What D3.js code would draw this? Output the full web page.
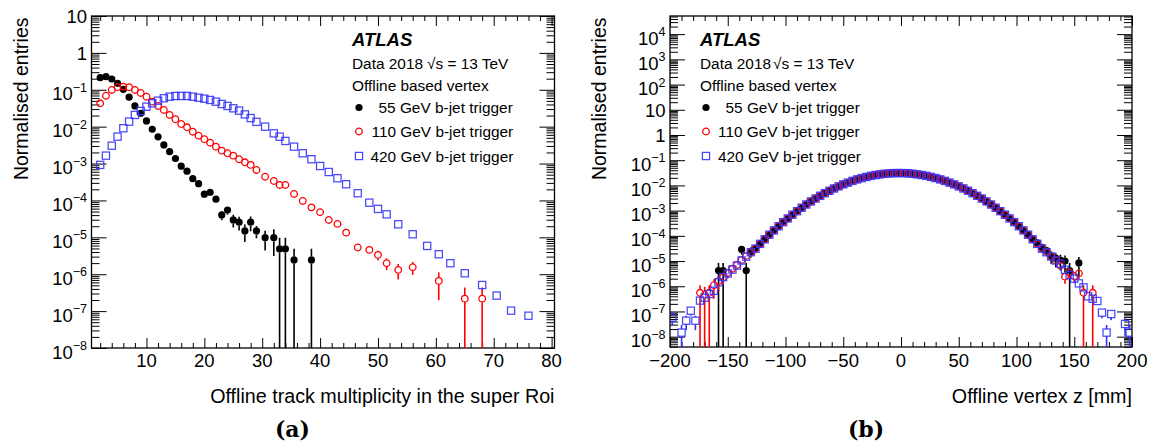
<!DOCTYPE html>
<html><head><meta charset="utf-8">
<script src="https://cdn.jsdelivr.net/npm/d3@7"></script>
<style>body{margin:0;background:#fff}svg{display:block}</style>
</head><body>
<script>
// ---------- Panel (a): track multiplicity ----------
const trkBins = [2,3,4,5,6,7,8,9,10,11,12,13,14,15,16,17,18,19,20,21,22,23,24,25,26,27,28,29,
  30.5,32,33,34,35.5,37,38.5,40,41.5,43,44.5,46.5,48.5,50,51.5,53.5,56,58.5,60.5,62.5,65,68,70.5,73,76];
const trk55 = [0.213,0.226,0.196,0.150,0.103,0.063,0.0364,0.0231,0.0143,0.0085,0.0053,0.0032,0.0021,0.00137,8.5e-4,6.2e-4,3.9e-4,2.85e-4,1.48e-4,1.67e-4,1.08e-4,4.05e-5,5.5e-5,2.96e-5,2.57e-5,1.49e-5,2.57e-5,1.49e-5,
  9.8e-6,9.8e-6,4.85e-6,4.85e-6,2.44e-6,null,2.44e-6,null,null,null,null,null,null,null,null,null,null,null,null,null,null,null,null,null,null];
const trk55Err = [0,0,0,0,0,0,0,0,0,0,0,0,0,0,0,0.05,0.06,0.08,0.1,0.1,0.13,0.28,0.25,0.38,0.4,0.5,0.43,0.37,
  0.55,0.68,1,1,1,0,1,0,0,0,0,0,0,0,0,0,0,0,0,0,0,0,0,0,0];
const trk110 = [0.043,0.069,0.099,0.117,0.122,0.117,0.099,0.082,0.065,0.0476,0.0364,0.0284,0.0208,0.0159,0.0118,0.0096,0.0073,0.0057,0.00456,0.00368,0.00287,0.00224,0.0019,0.00164,0.00131,0.00108,9.2e-4,6.7e-4,
  4.4e-4,3.37e-4,2.63e-4,2.63e-4,1.5e-4,9.7e-5,6.5e-5,4.8e-5,2.96e-5,2.31e-5,1.34e-5,5.3e-6,4.56e-6,3.34e-6,1.99e-6,1.31e-6,1.55e-6,null,6.6e-7,null,2.18e-7,2.18e-7,null,null,null];
const trk110Err = [0,0,0,0,0,0,0,0,0,0,0,0,0,0,0,0,0,0,0,0,0,0,0,0,0,0,0,0.02,
  0.03,0.03,0.04,0.04,0.05,0.06,0.07,0.08,0.1,0.11,0.12,0.17,0.2,0.3,0.35,0.45,0.38,0,0.7,0,1,1,0,0,0];
const trk420 = [9.2e-4,1.64e-3,3.05e-3,5.36e-3,9.05e-3,0.0137,0.0208,0.0266,0.0348,0.043,0.0507,0.0589,0.065,0.068,0.068,0.068,0.065,0.061,0.0574,0.053,0.0476,0.0412,0.0364,0.0315,0.0272,0.0215,0.0171,0.0135,
  0.01,0.0066,0.00536,0.0041,0.00287,0.0019,0.00131,8.6e-4,5.9e-4,4.0e-4,2.75e-4,1.57e-4,8.7e-5,5.9e-5,4.2e-5,2.26e-5,1.21e-5,5.85e-6,3.48e-6,1.99e-6,1.06e-6,5.1e-7,2.63e-7,1.03e-7,7.5e-8];
const trk420Err = [0,0,0,0,0,0,0,0,0,0,0,0,0,0,0,0,0,0,0,0,0,0,0,0,0,0,0,0,
  0,0,0,0,0,0,0,0,0,0,0,0,0,0,0,0,0,0,0,0,0.04,0.06,0.08,0.12,0.2];
const trkTicks = [10,20,30,40,50,60,70,80];

// ---------- Panel (b): vertex z ----------
const zBins = [-198,-194,-190,-186,-182,-178,-174,-170,-166,-162,-158,-154,-150,-146,-142,-138,-134,-130,
  -126,-122,-118,-114,-110,-106,-102,-98,-94,-90,-86,-82,-78,-74,-70,-66,-62,-58,-54,-50,-46,-42,-38,-34,-30,-26,-22,-18,-14,-10,-6,-2,
  2,6,10,14,18,22,26,30,34,38,42,46,50,54,58,62,66,70,74,78,82,86,90,94,98,102,106,110,114,118,122,126,
  130,134,138,142,146,150,154,158,162,166,170,174,178,182,186,190,194,198];
const vtx55 = [null,null,null,null,null,null,null,null,null,null,4.2e-6,4.2e-6,null,null,null,2.9e-5,4.2e-6,2.4e-5,
  3.2e-5,4.7e-5,7.2e-5,1.10e-4,1.63e-4,2.4e-4,3.5e-4,4.9e-4,6.9e-4,9.5e-4,1.30e-3,1.75e-3,2.31e-3,3.01e-3,3.87e-3,4.91e-3,6.14e-3,7.59e-3,9.18e-3,1.10e-2,1.29e-2,1.51e-2,1.73e-2,1.95e-2,2.17e-2,2.39e-2,2.58e-2,2.75e-2,2.90e-2,3.01e-2,3.07e-2,3.09e-2,
  3.07e-2,3.01e-2,2.90e-2,2.75e-2,2.58e-2,2.39e-2,2.17e-2,1.95e-2,1.73e-2,1.51e-2,1.29e-2,1.10e-2,9.18e-3,7.59e-3,6.14e-3,4.91e-3,3.87e-3,3.01e-3,2.31e-3,1.75e-3,1.30e-3,9.5e-4,6.9e-4,4.9e-4,3.5e-4,2.4e-4,1.64e-4,1.12e-4,7.5e-5,5.3e-5,3.5e-5,2.6e-5,
  1.6e-5,1.3e-5,1.1e-5,1.0e-5,4.2e-6,null,8.4e-6,null,null,null,null,null,null,null,null,null,null,null];
const vtx110 = [null,null,null,null,null,null,5.5e-7,4.5e-7,5.5e-7,1.1e-6,1.6e-6,2.3e-6,3.4e-6,5.0e-6,7.0e-6,1.1e-5,1.6e-5,2.2e-5,
  3.1e-5,4.8e-5,7.3e-5,1.11e-4,1.64e-4,2.4e-4,3.5e-4,4.9e-4,6.9e-4,9.5e-4,1.30e-3,1.75e-3,2.31e-3,3.01e-3,3.87e-3,4.91e-3,6.14e-3,7.59e-3,9.18e-3,1.10e-2,1.29e-2,1.51e-2,1.73e-2,1.95e-2,2.17e-2,2.39e-2,2.58e-2,2.75e-2,2.90e-2,3.01e-2,3.07e-2,3.09e-2,
  3.07e-2,3.01e-2,2.90e-2,2.75e-2,2.58e-2,2.39e-2,2.17e-2,1.95e-2,1.73e-2,1.51e-2,1.29e-2,1.10e-2,9.18e-3,7.59e-3,6.14e-3,4.91e-3,3.87e-3,3.01e-3,2.31e-3,1.75e-3,1.30e-3,9.5e-4,6.9e-4,4.9e-4,3.5e-4,2.4e-4,1.64e-4,1.11e-4,7.3e-5,4.8e-5,3.1e-5,2.24e-5,
  1.5e-5,1.05e-5,6.5e-6,2.4e-6,3.5e-6,2.5e-6,3.2e-6,5.5e-7,null,5.5e-7,null,null,null,null,null,null,null,null];
const vtx420 = [5.7e-8,null,1.45e-8,4.3e-8,1.07e-7,4.3e-8,2.7e-7,3.5e-7,4.9e-7,6.6e-7,1.45e-6,2.3e-6,3.2e-6,4.6e-6,6.6e-6,1.05e-5,1.5e-5,2.24e-5,
  3.1e-5,4.8e-5,7.3e-5,1.11e-4,1.64e-4,2.4e-4,3.5e-4,4.9e-4,6.9e-4,9.5e-4,1.30e-3,1.75e-3,2.31e-3,3.01e-3,3.87e-3,4.91e-3,6.14e-3,7.59e-3,9.18e-3,1.10e-2,1.29e-2,1.51e-2,1.73e-2,1.95e-2,2.17e-2,2.39e-2,2.58e-2,2.75e-2,2.90e-2,3.01e-2,3.07e-2,3.09e-2,
  3.07e-2,3.01e-2,2.90e-2,2.75e-2,2.58e-2,2.39e-2,2.17e-2,1.95e-2,1.73e-2,1.51e-2,1.29e-2,1.10e-2,9.18e-3,7.59e-3,6.14e-3,4.91e-3,3.87e-3,3.01e-3,2.31e-3,1.75e-3,1.30e-3,9.5e-4,6.9e-4,4.9e-4,3.5e-4,2.4e-4,1.64e-4,1.11e-4,7.3e-5,4.8e-5,3.1e-5,2.24e-5,
  1.51e-5,1.05e-5,7.8e-6,4.5e-6,2.8e-6,2.0e-6,1.3e-6,9.0e-7,4.0e-7,3.2e-7,2.6e-7,9.0e-8,1.45e-8,7.9e-8,null,null,3.2e-8,1.45e-8];
// weight of a single entry in each histogram (smallest filled bin), used for Poisson error bars
const singleEntry55 = 4.2e-6, singleEntry110 = 5.5e-7, singleEntry420 = 1.45e-8;
const zTicks = [-200,-150,-100,-50,0,50,100,150,200];

const legendLabels = ["55 GeV b-jet trigger","110 GeV b-jet trigger","420 GeV b-jet trigger"];

// ---------- drawing ----------
const SANS = "'Liberation Sans', Arial, Helvetica, sans-serif";
const BLUE = "#3434f8", RED = "#ff0000";
const TXT = 15.4;
const svg = d3.select("body").append("svg").attr("width",1151).attr("height",446)
  .attr("font-family",SANS);
const defs = svg.append("defs");
const minus = s => String(s).replace("-","\u2212");

function makePanel(o){
  const x = d3.scaleLinear().domain(o.xDom).range([o.x0,o.x1]);
  const y = d3.scaleLog().domain(o.yDom).range([o.y1,o.y0]);
  const g = svg.append("g");
  defs.append("clipPath").attr("id","clip"+o.id).append("rect")
    .attr("x",o.x0).attr("y",o.y0).attr("width",o.x1-o.x0).attr("height",o.y1-o.y0);
  const [d0,d1] = o.yDom, maj=[], mnr=[];
  for(let k=Math.floor(Math.log10(d0)); k<=Math.ceil(Math.log10(d1)); k++){
    const b = Math.pow(10,k);
    if(b>=d0*0.999 && b<=d1*1.001) maj.push(b);
    for(let m=2;m<=9;m++){ const v=m*b; if(v>d0 && v<d1) mnr.push(v); }
  }
  const ax = (gen, tr) => g.append("g").attr("transform",tr).call(gen)
    .call(s=>s.select(".domain").remove());
  ax(d3.axisLeft(y).tickValues(maj).tickSize(-15).tickFormat(""), `translate(${o.x0},0)`);
  ax(d3.axisLeft(y).tickValues(mnr).tickSize(-8).tickFormat(""), `translate(${o.x0},0)`);
  ax(d3.axisRight(y).tickValues(maj).tickSize(-15).tickFormat(""), `translate(${o.x1},0)`);
  ax(d3.axisRight(y).tickValues(mnr).tickSize(-8).tickFormat(""), `translate(${o.x1},0)`);
  ax(d3.axisBottom(x).tickValues(o.xMaj).tickSize(-10).tickFormat(""), `translate(0,${o.y1})`);
  ax(d3.axisBottom(x).tickValues(o.xMin).tickSize(-5).tickFormat(""), `translate(0,${o.y1})`);
  ax(d3.axisTop(x).tickValues(o.xMaj).tickSize(-10).tickFormat(""), `translate(0,${o.y0})`);
  ax(d3.axisTop(x).tickValues(o.xMin).tickSize(-5).tickFormat(""), `translate(0,${o.y0})`);
  g.selectAll(".tick line").attr("stroke","#000").attr("stroke-width",1);
  g.append("rect").attr("x",o.x0).attr("y",o.y0).attr("width",o.x1-o.x0).attr("height",o.y1-o.y0)
    .attr("fill","none").attr("stroke","#000").attr("stroke-width",1.3);
  g.selectAll(".xl").data(o.xLab).join("text").attr("x",d=>x(d)).attr("y",367)
    .attr("text-anchor","middle").attr("font-size",18.5).text(d=>minus(d));
  maj.forEach(b=>{
    const k = Math.round(Math.log10(b)), yy = y(b);
    const t = g.append("text").attr("x",o.x0-4.5).attr("text-anchor","end").attr("font-size",18.5);
    if(k===0||k===1){ t.attr("y",yy+7).text(k===0?"1":"10"); }
    else { t.attr("y",yy+10.5); t.append("tspan").text("10");
      t.append("tspan").attr("dy",-8.5).attr("font-size",12.5).text(minus(k)); }
  });
  g.append("text").attr("transform",`translate(${o.yTitleX},17.5) rotate(-90)`).attr("text-anchor","end")
    .attr("font-size",19.5).text("Normalised entries");
  g.append("text").attr("x",o.x1).attr("y",403).attr("text-anchor","end").attr("font-size",19.7).text(o.xTitle);
  g.append("text").attr("x",o.capX).attr("y",437).attr("text-anchor","middle")
    .attr("font-family","'DejaVu Serif', 'Liberation Serif', serif").attr("font-weight","bold")
    .attr("font-size",22).text(o.cap);
  const tx = o.textX;
  g.append("text").attr("x",tx).attr("y",46).attr("font-size",18.5).attr("font-weight","bold")
    .attr("font-style","italic").text("ATLAS");
  g.append("text").attr("x",tx).attr("y",69).attr("font-size",TXT).text("Data 2018");
  g.append("text").attr("x",o.sqrtX).attr("y",69).attr("font-size",TXT).text("\u221As = 13 TeV");
  g.append("text").attr("x",tx).attr("y",90.5).attr("font-size",TXT).text("Offline based vertex");
  const dl = g.append("g").attr("clip-path",`url(#clip${o.id})`);
  return {x,y,g,dl,o};
}

function marker(sel, type){
  if(type==="dot") return sel.append("circle").attr("r",3.6).attr("fill","#000");
  if(type==="circle") return sel.append("circle").attr("r",3.3).attr("fill","none").attr("stroke",RED).attr("stroke-width",1.3);
  return sel.append("rect").attr("x",-3.6).attr("y",-3.6).attr("width",7.2).attr("height",7.2)
    .attr("fill","none").attr("stroke",BLUE).attr("stroke-width",1.25).attr("stroke-opacity",0.9);
}

function drawSeries(P, xs, vs, errFn, type, color){
  const pts = xs.map((xv,i)=>({xv, v:vs[i], e:errFn(vs[i],i)})).filter(d=>d.v!=null);
  const g = P.dl.append("g");
  const hs = 3.5;
  pts.forEach(d=>{
    const cx = P.x(d.xv), cy = P.y(d.v);
    const hi = d.v + d.e, lo = d.v - d.e;
    const yHi = P.y(hi), yLo = lo>0 ? P.y(lo) : P.o.y1+5;
    if(d.e>0 && yHi < cy-hs) g.append("line").attr("x1",cx).attr("x2",cx).attr("y1",yHi).attr("y2",cy-hs)
      .attr("stroke",color).attr("stroke-width",1.6);
    if(d.e>0 && yLo > cy+hs) g.append("line").attr("x1",cx).attr("x2",cx).attr("y1",cy+hs).attr("y2",yLo)
      .attr("stroke",color).attr("stroke-width",1.6);
  });
  pts.forEach(d=>{
    marker(g.append("g").attr("transform",`translate(${P.x(d.xv)},${P.y(d.v)})`), type);
  });
}

function legend(P, mx, tx){
  const rows = [{t:"dot",y:107.5,x:tx[0]},{t:"circle",y:131.5,x:tx[1]},{t:"square",y:156,x:tx[2]}];
  rows.forEach((r,i)=>{
    marker(P.g.append("g").attr("transform",`translate(${mx},${r.y})`), r.t);
    P.g.append("text").attr("x",r.x).attr("y",r.y+5.8).attr("font-size",TXT).text(legendLabels[i]);
  });
}

const A = makePanel({id:"a", x0:91.5, x1:554.5, y0:16, y1:348, xDom:[0.5,80.5], yDom:[1e-8,10],
  xMaj:trkTicks, xMin:d3.range(2,80,2).filter(v=>v%10!==0), xLab:trkTicks,
  yTitleX:27.5, xTitle:"Offline track multiplicity in the super Roi", cap:"(a)", capX:292.5,
  textX:352, sqrtX:427});
drawSeries(A, trkBins, trk55, (v,i)=>v==null?0:v*trk55Err[i], "dot", "#000");
drawSeries(A, trkBins, trk110, (v,i)=>v==null?0:v*trk110Err[i], "circle", RED);
drawSeries(A, trkBins, trk420, (v,i)=>v==null?0:v*trk420Err[i], "square", BLUE);
legend(A, 359, [378.5, 371.5, 370.5]);

const B = makePanel({id:"b", x0:670, x1:1132, y0:16, y1:347, xDom:[-200,200], yDom:[Math.pow(10,-8.41),Math.pow(10,4.72)],
  xMaj:zTicks, xMin:d3.range(-190,200,10).filter(v=>v%50!==0), xLab:zTicks,
  yTitleX:606, xTitle:"Offline vertex z [mm]", cap:"(b)", capX:866,
  textX:700, sqrtX:773});
drawSeries(B, zBins, vtx55, v=>v==null?0:Math.sqrt(v*singleEntry55), "dot", "#000");
drawSeries(B, zBins, vtx110, v=>v==null?0:Math.sqrt(v*singleEntry110), "circle", RED);
drawSeries(B, zBins, vtx420, v=>v==null?0:Math.sqrt(v*singleEntry420), "square", BLUE);
legend(B, 706, [725.5, 718, 718]);
</script>
</body></html>
